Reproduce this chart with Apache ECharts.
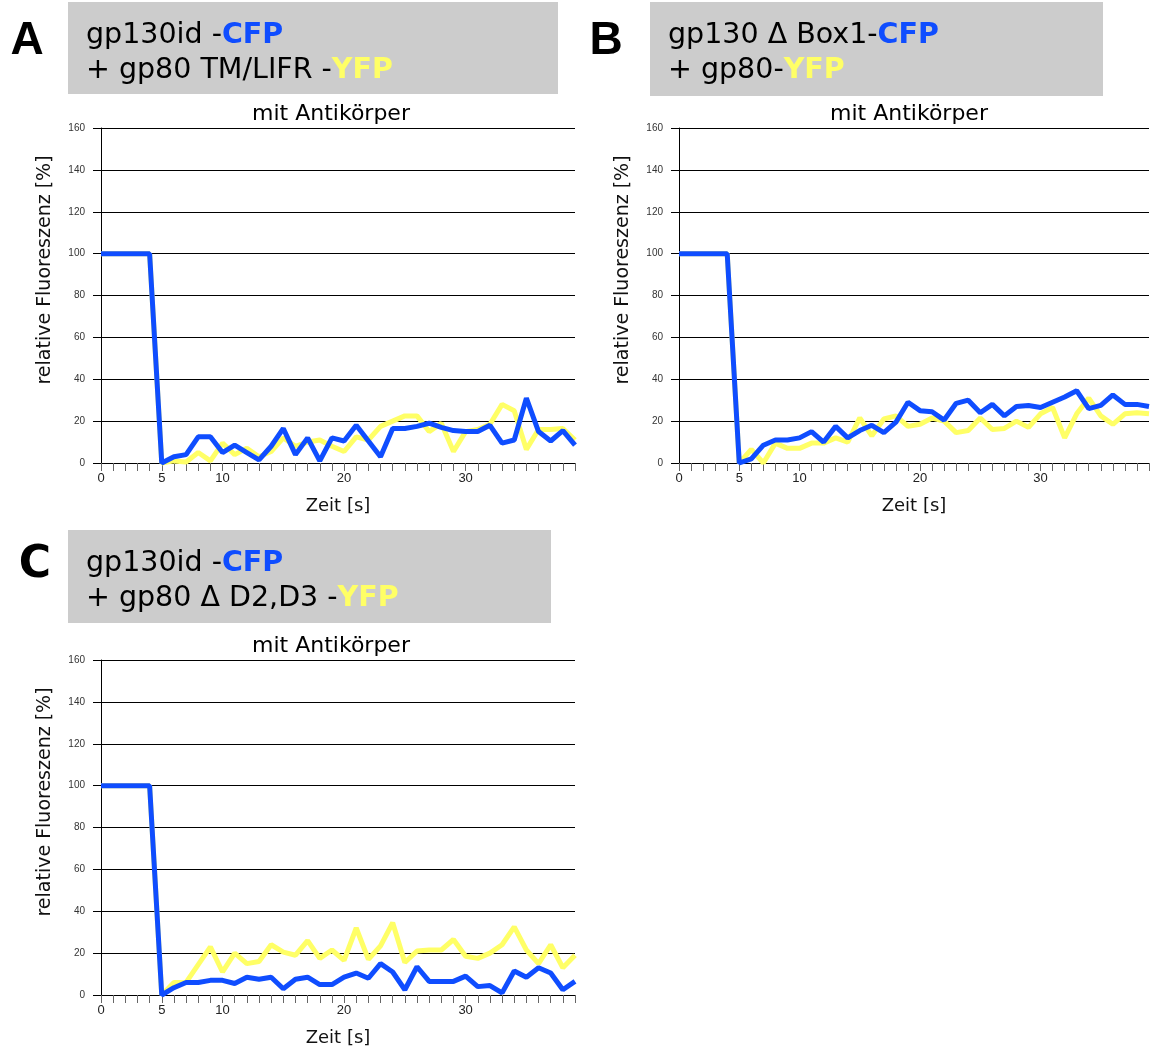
<!DOCTYPE html>
<html><head><meta charset="utf-8">
<script src="https://cdn.jsdelivr.net/npm/echarts@6/dist/echarts.min.js"></script>
<style>html,body{margin:0;padding:0;background:#fff}#c{width:1152px;height:1050px}</style>
</head><body><div id="c"></div>
<script>
const seconds = [0,1,2,3,4,5,6,7,8,9,10,11,12,13,14,15,16,17,18,19,20,21,22,23,24,25,26,27,28,29,30,31,32,33,34,35,36,37,38,39];
const xTickLabels = [0,5,10,20,30];
const yTicks = [0,20,40,60,80,100,120,140,160];

const cfpA = [100,100,100,100,100,0,3,4,12.5,12.5,5,8.5,5,1.5,8,16.5,4,12,1,12,10.5,18,10.5,3,16.5,16.5,17.5,19,17,15.5,15,15,18,9.5,11,31,15,10.5,15.5,8.5];
const yfpA = [100,100,100,100,100,0,1,0.5,5,1,9.5,4,7,3,5.5,12,8,10,11,8,5.5,12.5,11,17.5,20,22.5,22.5,15,19,5.5,15,16,18.5,28,25,6.5,16,16,16.5,11];
const cfpB = [100,100,100,100,100,0,2,8.5,11,11,12,15,10,17.5,12,15.5,18,14.5,19.5,29,25,24.5,20.5,28.5,30,24,28,22.5,27,27.5,26.5,29,31.5,34.5,26,27.5,32.5,28,28,27];
const yfpB = [100,100,100,100,100,0,6.5,0,9.5,7,7,9.5,9.5,12,10,21.5,13,21,22.5,17.5,18.5,21.5,20,14.5,15.5,21.5,16,16.5,20,17,23.5,26.5,12,23.5,31,22.5,18.5,23.5,24,23.5];
const cfpC = [100,100,100,100,100,0,3.5,6,6,7,7,5.5,8.5,7.5,8.5,3,7.5,8.5,5,5,8.5,10.5,8,15,11,2.5,13.5,6.5,6.5,6.5,9,4,4.5,1,11.5,8.5,13,10.5,2.5,6.5];
const yfpC = [100,100,100,100,100,0,6,6,14.5,23,11,20,15,16,24,20.5,19,26,17.5,21.5,16.5,32,17,23.5,34.5,15.5,21,21.5,21.5,26.5,18.5,17.5,20,24,32.5,21.5,15,24,13,19];

const panelLetters = ['A','B','C'];
const line1 = [['gp130id -','CFP'],['gp130 \u0394 Box1-','CFP'],['gp130id -','CFP']];
const line2 = [['+ gp80 TM/LIFR -','YFP'],['+ gp80-','YFP'],['+ gp80 \u0394 D2,D3 -','YFP']];
const panelTitle = 'mit Antik\u00f6rper';
const yName = 'relative Fluoreszenz [%]';
const xName = 'Zeit [s]';

const BLUE = '#0f4dff', YELLOW = '#ffff66';
const FONT = 'DejaVu Sans';
const TICKFONT = 'Liberation Sans';

const grids = [
  {left:101, top:128, width:474, height:335},
  {left:679, top:128, width:473, height:335},
  {left:101, top:660, width:474, height:335}
];
const boxes = [
  {x:68, y:2, w:490, h:92, tx:86, letterX:27, letterY:41, lf:'Liberation Sans', nameX:45, nameY:270},
  {x:650, y:2, w:453, h:94, tx:668, letterX:606, letterY:41, lf:'Liberation Sans', nameX:623, nameY:270},
  {x:68, y:530, w:483, h:93, tx:86, letterX:35, letterY:566, lf:'DejaVu Sans', nameX:45, nameY:802}
];

const xAxes = grids.map((g,i)=>({
  gridIndex:i, type:'value', min:0, max:39, interval:1,
  name:xName, nameLocation:'middle', nameGap:34,
  nameTextStyle:{fontFamily:FONT, fontSize:18, color:'#111'},
  axisLine:{lineStyle:{color:'#000', width:1}},
  axisTick:{show:true, length:8, lineStyle:{color:'#666'}},
  axisLabel:{fontFamily:TICKFONT, fontSize:13, color:'#222', margin:9,
    formatter:v=> xTickLabels.indexOf(v)>=0 ? String(v) : ''},
  splitLine:{show:false}
}));
const yAxes = grids.map((g,i)=>({
  gridIndex:i, type:'value', min:0, max:160, interval:20,
  axisLine:{show:true, lineStyle:{color:'#000', width:1}},
  axisTick:{show:true, length:8, lineStyle:{color:'#000'}},
  axisLabel:{fontFamily:TICKFONT, fontSize:10, color:'#333', margin:16,
    formatter:v=> yTicks.indexOf(v)>=0 ? String(v) : ''},
  splitLine:{show:true, lineStyle:{color:'#000', width:1}}
}));

const pairs = [[yfpA,cfpA],[yfpB,cfpB],[yfpC,cfpC]];
const series = [];
pairs.forEach((p,i)=>{
  series.push({type:'line', xAxisIndex:i, yAxisIndex:i, data:seconds.map((s,k)=>[s,p[0][k]]),
    showSymbol:false, lineStyle:{color:YELLOW, width:5}, itemStyle:{color:YELLOW}, z:2, animation:false, clip:false});
  series.push({type:'line', xAxisIndex:i, yAxisIndex:i, data:seconds.map((s,k)=>[s,p[1][k]]),
    showSymbol:false, lineStyle:{color:BLUE, width:5}, itemStyle:{color:BLUE}, z:3, animation:false, clip:false});
});

const graphics = [];
boxes.forEach((b,i)=>{
  graphics.push({type:'rect', shape:{x:b.x,y:b.y,width:b.w,height:b.h}, style:{fill:'#cccccc'}, z:-1});
  graphics.push({type:'text', x:b.letterX, y:b.letterY, style:{text:panelLetters[i], font:'bold '+(i===2?44:46)+'px "'+b.lf+'"', fill:'#000', align:'center', verticalAlign:'middle'}});
  const rich = {n:{fontFamily:FONT, fontSize:28.5, color:'#000', fill:'#000'}, c:{fontFamily:FONT, fontSize:28.5, fontWeight:'bold', color:BLUE, fill:BLUE}, y:{fontFamily:FONT, fontSize:28.5, fontWeight:'bold', color:YELLOW, fill:YELLOW}};
  graphics.push({type:'text', x:b.tx, y:b.y+34, style:{text:'{n|'+line1[i][0]+'}{c|'+line1[i][1]+'}', rich:rich, verticalAlign:'middle', align:'left'}});
  graphics.push({type:'text', x:b.tx, y:b.y+69, style:{text:'{n|'+line2[i][0]+'}{y|'+line2[i][1]+'}', rich:rich, verticalAlign:'middle', align:'left'}});
  const g = grids[i];
  graphics.push({type:'text', x:g.left + 230, y:g.top-14, style:{text:panelTitle, font:'22px "'+FONT+'"', fill:'#000', align:'center', verticalAlign:'middle'}});
  graphics.push({type:'text', x:b.nameX, y:b.nameY, rotation:Math.PI/2, style:{text:yName, font:'19px "'+FONT+'"', fill:'#111', align:'center', verticalAlign:'middle'}});
});

const chart = echarts.init(document.getElementById('c'), null, {renderer:'canvas'});
chart.setOption({
  animation:false,
  backgroundColor:'#fff',
  grid:grids,
  xAxis:xAxes,
  yAxis:yAxes,
  series:series,
  graphic:graphics
});
</script></body></html>
